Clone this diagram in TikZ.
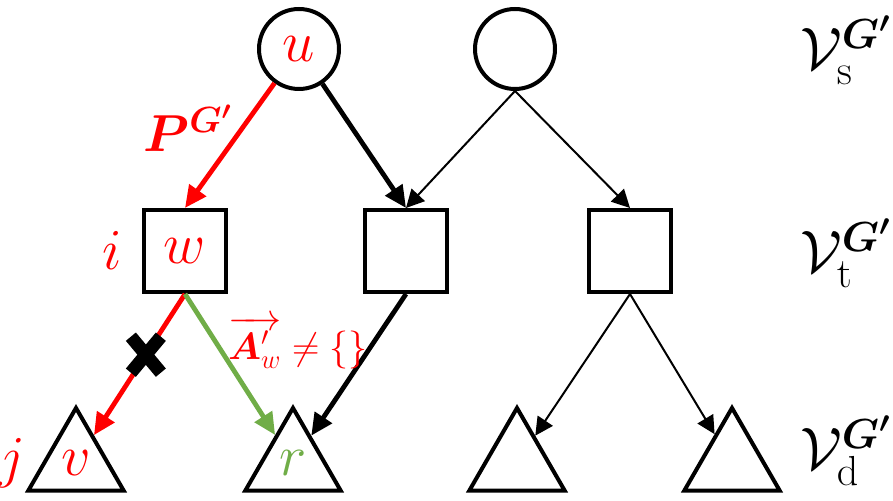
\documentclass[tikz,border=0pt]{standalone}
\usepackage{fix-cm}
\usepackage{amsmath,bm}
\usetikzlibrary{arrows.meta,shapes.geometric}
\definecolor{pgreen}{RGB}{112,173,71}
\tikzset{
  src/.style={draw,circle,line width=2pt,minimum size=40pt,inner sep=0pt},
  tsk/.style={draw,rectangle,line width=2pt,minimum size=41pt,inner sep=0pt},
  dst/.style={draw,regular polygon,regular polygon sides=3,line width=2pt,minimum size=55pt,inner sep=0pt},
  bigarr/.style={line width=2.4pt,-{Triangle[length=11pt,width=10pt]}},
  thinarr/.style={line width=1pt,-{Triangle[length=9pt,width=9pt]}},
  lbl/.style={font=\fontsize{29}{34}\selectfont},
  setlbl/.style={anchor=base west,font=\fontsize{30}{36}\selectfont}
}
\begin{document}
\begin{tikzpicture}[x=0.5pt,y=-0.5pt]
\useasboundingbox (0,0) rectangle (893,501);

\node[src,text=red,lbl] (u) at (299,49) {$u$};
\node[src] (s2) at (515,49) {};

\node[tsk,text=red,lbl] (w) at (185,251) {$w$};
\node[tsk] (t2) at (406,251) {};
\node[tsk] (t3) at (630,251) {};

\node[dst,text=red,lbl] (v) at (76,463) {$v$};
\node[dst,text=pgreen,lbl] (r) at (293,463) {$r$};
\node[dst] (d3) at (517,463) {};
\node[dst] (d4) at (732,463) {};

\draw[bigarr,red] (u) -- (w.north);
\draw[bigarr] (u) -- (t2.north);
\draw[thinarr] (s2.south) -- (t2.north);
\draw[thinarr] (s2.south) -- (t3.north);

\draw[bigarr] (t2.south) -- (r);
\draw[bigarr,red] (w.south) -- coordinate[pos=0.43] (cut) (v);
\draw[bigarr,pgreen] (w.south) -- (r);
\draw[thinarr] (t3.south) -- (d3);
\draw[thinarr] (t3.south) -- (d4);

%\draw[red] (w.south) -- (v);
\draw[line width=6.5pt] ([shift={(-15,-18)}]cut) -- ([shift={(15,18)}]cut);
\draw[line width=6.5pt] ([shift={(-15,18)}]cut) -- ([shift={(15,-18)}]cut);

\node[text=red,font=\fontsize{26}{30}\selectfont] (pg) at (188,128) {$\boldsymbol{P^{G'}}$};
\node[text=red,lbl] (i) at (112,250) {$i$};
\node[text=red,lbl] (j) at (12,463) {$j$};
\node[text=red,font=\fontsize{19}{23}\selectfont] (aw) at (298,343) {$\overrightarrow{\boldsymbol{A}'_{w}}\neq\{\}$};

\node[setlbl] (vs) at (793,70) {$\mathcal{V}_{\mathrm{s}}^{\boldsymbol{G'}}$};
\node[setlbl] (vt) at (793,273) {$\mathcal{V}_{\mathrm{t}}^{\boldsymbol{G'}}$};
\node[setlbl] (vd) at (793,470) {$\mathcal{V}_{\mathrm{d}}^{\boldsymbol{G'}}$};

\end{tikzpicture}
\end{document}
